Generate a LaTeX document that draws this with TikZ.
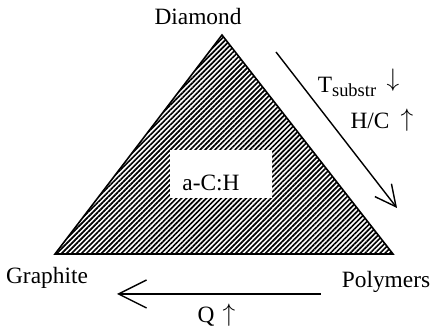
\documentclass[tikz,border=0pt]{standalone}
\usepackage{fontspec}
\setmainfont{Liberation Serif}
\usetikzlibrary{patterns.meta, arrows.meta}

\begin{document}
\begin{tikzpicture}[x=1cm,y=1cm,
  etiquette/.style={inner sep=1pt, font=\fontsize{13.3}{16}\selectfont},
  fleche/.style={line width=0.8pt, -{Straight Barb[length=#1, width=#1, line width=0.8pt]}},
  hachure/.style={draw=black, line width=0.9pt, pattern={Lines[angle=45, distance=2pt, line width=0.95pt]}}]

\useasboundingbox (0,0) rectangle (8.62,6.70);

%% ================= triangle hachuré ======================================
\coordinate (sommet) at (4.44,6.00);
\coordinate (gauche) at (1.10,1.62);
\coordinate (droite) at (7.86,1.62);
\draw[hachure] (sommet) -- (droite) -- (gauche) -- cycle;
\fill[white] (3.40,2.74) rectangle (5.44,3.70);
\node[etiquette] (aCH) at (4.22,3.04) {a-C:H};

%% ================= sommets ===============================================
\node[etiquette] (diamant)   at (3.96,6.36) {Diamond};
\node[etiquette] (graphite)  at (0.94,1.14) {Graphite};
\node[etiquette] (polymeres) at (7.72,1.06) {Polymers};

%% ================= flèche diagonale : Diamond -> Polymers ================
\coordinate (d1) at (5.52,5.66);
\coordinate (d2) at (7.94,2.54);
\draw[fleche=0.42cm] (d1) -- (d2);
\node[etiquette] (tsub)  at (6.94,4.96) {T\raisebox{-0.45ex}{\fontsize{10.5}{12}\selectfont substr}};
\node[etiquette] (tbas)  at (7.86,5.10) {$\downarrow$};
\node[etiquette] (hc)    at (7.40,4.28) {H/C};
\node[etiquette] (hchaut) at (8.14,4.30) {$\uparrow$};

%% ================= flèche horizontale : Polymers -> Graphite =============
\coordinate (h1) at (6.42,0.82);
\coordinate (h2) at (2.34,0.82);
\draw[fleche=0.56cm] (h1) -- (h2);
\node[etiquette] (q)     at (4.12,0.36) {Q};
\node[etiquette] (qhaut) at (4.58,0.40) {$\uparrow$};
\end{tikzpicture}
\end{document}
